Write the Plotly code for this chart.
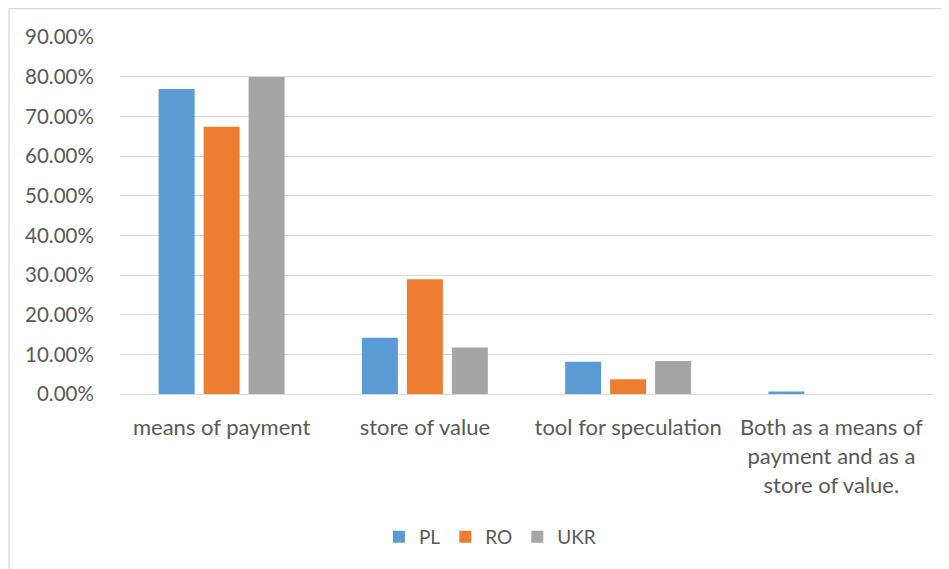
import plotly.graph_objects as go

categories = ["means of payment", "store of value", "tool for speculation",
              "Both as a means of payment and as a store of value."]
tick_labels = ["means of payment", "store of value", "tool for speculation",
               "Both as a means of<br>payment and as a<br>store of value."]
series_names = ["PL", "RO", "UKR"]
pl_values = [0.769, 0.142, 0.081, 0.006]
ro_values = [0.674, 0.289, 0.037, 0.0]
ukr_values = [0.799, 0.117, 0.083, 0.0]
y_ticks = [0, 0.1, 0.2, 0.3, 0.4, 0.5, 0.6, 0.7, 0.8, 0.9]

colors = ["#5B9BD5", "#ED7D31", "#A5A5A5"]
font_family = "Lato, 'Open Sans', sans-serif"

fig = go.Figure()
for name, vals, col in zip(series_names, [pl_values, ro_values, ukr_values], colors):
    fig.add_trace(go.Bar(x=categories, y=vals, name=name, marker_color=col,
                         marker_line_width=0))

fig.update_layout(
    width=949, height=569,
    margin=dict(l=112, r=24, t=29, b=183),
    paper_bgcolor="white", plot_bgcolor="white",
    barmode="group", bargap=0.336, bargroupgap=0.2,
    font=dict(family=font_family, size=20, color="#595959"),
    legend=dict(orientation="h", x=0.455, xanchor="center", y=-0.40, yanchor="middle",
                font=dict(size=19, color="#595959"), itemwidth=30, traceorder="normal"),
    showlegend=True,
)
fig.update_xaxes(tickmode="array", tickvals=categories, ticktext=tick_labels,
                 showgrid=False, showline=False, zeroline=False,
                 ticks="outside", ticklen=14, tickcolor="rgba(0,0,0,0)",
                 tickfont=dict(size=22, color="#595959"))
fig.update_yaxes(range=[0, 0.9], tickvals=y_ticks, tickformat=".2%",
                 showgrid=True, gridcolor="#D9D9D9", gridwidth=1.3,
                 zeroline=True, zerolinecolor="#D9D9D9", zerolinewidth=1.3,
                 showline=False, ticks="outside", ticklen=21,
                 tickcolor="rgba(0,0,0,0)",
                 tickfont=dict(size=20.5, color="#595959"))

# outer chart border (Excel chart area)
fig.add_shape(type="rect", xref="paper", yref="paper",
              x0=-111 / 813, x1=1.2, y0=-1.0, y1=1 + 28.5 / 357,
              line=dict(color="#D9D9D9", width=1.3), fillcolor="rgba(0,0,0,0)",
              layer="below")

fig.write_html("out.html")
